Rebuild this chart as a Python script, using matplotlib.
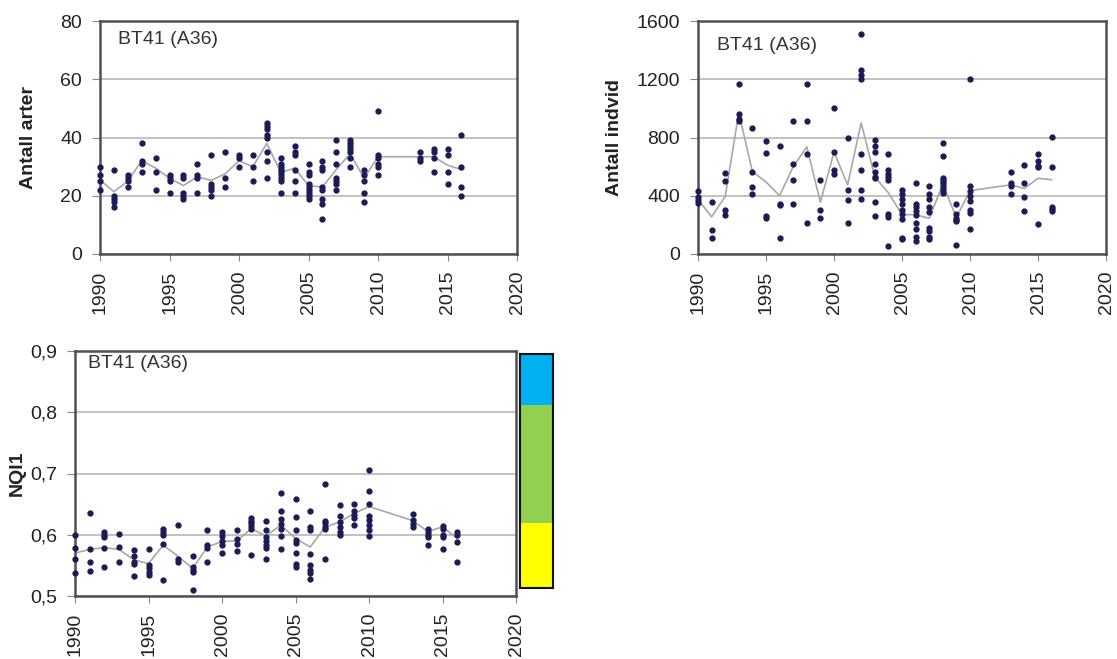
import matplotlib
matplotlib.use('Agg')
import matplotlib.pyplot as plt
from matplotlib.ticker import FuncFormatter

plt.rcParams['font.family'] = ['Liberation Sans', 'DejaVu Sans']

# ---------------- data ----------------
years = [1990, 1991, 1992, 1993, 1994, 1995, 1996, 1997, 1998, 1999, 2000,
         2001, 2002, 2003, 2004, 2005, 2006, 2007, 2008, 2009, 2010,
         2013, 2014, 2015, 2016]

station_label = "BT41 (A36)"

# Antall arter (number of species) – individual samples per year
arter_points = [
    [30, 27, 25, 22],
    [29, 20, 19, 18, 16],
    [27, 26, 25, 23],
    [38, 32, 31, 28],
    [33, 28, 22],
    [27, 26, 25, 21],
    [27, 26, 21, 20, 19],
    [31, 27, 26, 21],
    [34, 24, 23, 22, 20],
    [35, 26, 23],
    [34, 33, 30],
    [34, 30, 25],
    [45, 44, 43, 41, 40, 35, 32, 26],
    [33, 31, 30, 29, 28, 27, 26, 25, 21],
    [37, 35, 34, 29, 25, 21],
    [31, 28, 27, 24, 23, 22, 21, 20, 19],
    [32, 30, 29, 23, 22, 19, 17, 12],
    [39, 35, 31, 26, 25, 24, 22],
    [39, 38, 37, 36, 35, 33, 30],
    [29, 27, 25, 21, 18],
    [49, 34, 33, 31, 30, 27],
    [35, 33, 32],
    [36, 35, 33, 28],
    [36, 34, 28, 24],
    [41, 30, 23, 20],
]
arter_mean = [25.4, 21.4, 25.0, 32.0, 29.5, 26.0, 23.5, 26.5, 25.3, 27.5, 32.0,
              30.0, 38.0, 28.0, 29.5, 23.5, 23.0, 29.0, 34.5, 26.0, 33.4,
              33.4, 33.4, 30.5, 29.0]

# Antall individ (number of individuals)
indvid_points = [
    [430, 390, 370, 350],
    [355, 165, 110],
    [555, 500, 300, 270],
    [1165, 960, 930, 910],
    [865, 560, 460, 410],
    [775, 695, 260, 250],
    [740, 345, 335, 110],
    [915, 620, 510, 345],
    [1165, 915, 690, 215],
    [505, 305, 245],
    [1000, 700, 580, 550],
    [795, 440, 370, 210],
    [1510, 1265, 1230, 1200, 690, 580, 440, 380],
    [780, 740, 700, 620, 560, 530, 520, 355, 260],
    [690, 575, 550, 530, 505, 275, 255, 55],
    [440, 410, 375, 340, 305, 275, 240, 110, 100],
    [485, 340, 320, 295, 270, 215, 170, 120, 90],
    [465, 415, 375, 325, 285, 180, 160, 120, 100],
    [760, 675, 525, 510, 495, 480, 460, 440, 420],
    [340, 275, 250, 235, 230, 65],
    [1200, 465, 430, 400, 365, 305, 280, 170],
    [560, 485, 465, 410],
    [610, 485, 390, 295],
    [685, 640, 605, 600, 205],
    [805, 600, 320, 310, 295],
]
indvid_mean = [375, 255, 395, 970, 565, 495, 400, 600, 735, 355, 700,
               475, 900, 530, 420, 270, 270, 245, 480, 250, 435,
               475, 450, 520, 510]

# NQI1 index
nqi_points = [
    [0.599, 0.578, 0.560, 0.538],
    [0.636, 0.576, 0.556, 0.541],
    [0.604, 0.600, 0.596, 0.578, 0.548],
    [0.601, 0.580, 0.555],
    [0.575, 0.565, 0.556, 0.553, 0.533],
    [0.576, 0.550, 0.546, 0.540, 0.535],
    [0.610, 0.605, 0.600, 0.585, 0.526],
    [0.616, 0.560, 0.555],
    [0.565, 0.548, 0.543, 0.540, 0.510],
    [0.608, 0.583, 0.578, 0.556],
    [0.605, 0.598, 0.590, 0.583, 0.571],
    [0.607, 0.593, 0.585, 0.574],
    [0.627, 0.623, 0.619, 0.615, 0.610, 0.567],
    [0.622, 0.608, 0.597, 0.590, 0.583, 0.578, 0.560],
    [0.668, 0.638, 0.625, 0.617, 0.610, 0.598, 0.576],
    [0.659, 0.629, 0.607, 0.592, 0.587, 0.570, 0.552, 0.547],
    [0.638, 0.612, 0.608, 0.568, 0.550, 0.543, 0.537, 0.527],
    [0.683, 0.623, 0.619, 0.613, 0.609, 0.561],
    [0.648, 0.630, 0.621, 0.612, 0.605, 0.600],
    [0.651, 0.638, 0.633, 0.628, 0.616],
    [0.705, 0.672, 0.650, 0.630, 0.624, 0.616, 0.607, 0.598],
    [0.634, 0.624, 0.618, 0.612],
    [0.609, 0.605, 0.600, 0.596, 0.583],
    [0.615, 0.610, 0.600, 0.596, 0.576],
    [0.605, 0.600, 0.588, 0.556],
]
nqi_mean = [0.570, 0.576, 0.579, 0.576, 0.559, 0.553, 0.583, 0.565, 0.545, 0.580, 0.589,
            0.590, 0.610, 0.598, 0.616, 0.594, 0.580, 0.612, 0.621, 0.635, 0.646,
            0.623, 0.605, 0.613, 0.594]

# NQI1 class bar (boundaries and colours)
class_bounds = [0.513, 0.619, 0.812, 0.895]
class_colors = ['#FFFF00', '#92D050', '#00B0F0']

x_ticks = [1990, 1995, 2000, 2005, 2010, 2015, 2020]

# ---------------- drawing ----------------
FS = 14
dot_color = '#1b1b55'
line_color = '#a8a8a8'
W, H = 1117, 659

fig = plt.figure(figsize=(W / 100, H / 100), dpi=100)


def px_axes(x0, y0, x1, y1):
    return fig.add_axes([x0 / W, 1 - y1 / H, (x1 - x0) / W, (y1 - y0) / H])


def draw_panel(ax, points, means, ylim, yticks, ylabel, fmt, label_x, title_pos):
    for yr, vals in zip(years, points):
        ax.plot([yr] * len(vals), vals, 'o', ms=3.5, color=dot_color,
                mec=dot_color, zorder=3, clip_on=False)
    ax.plot(years, means, '-', color=line_color, lw=1.2, zorder=2)
    ax.set_xlim(1990, 2020)
    ax.set_ylim(*ylim)
    ax.set_xticks(x_ticks)
    ax.set_yticks(yticks)
    ax.yaxis.set_major_formatter(FuncFormatter(fmt))
    ax.tick_params(axis='x', labelrotation=90, labelsize=FS, length=5,
                   color='#888888', pad=7, labelcolor='#222222')
    ax.tick_params(axis='y', labelsize=FS, length=6, color='#888888',
                   pad=7, labelcolor='#222222')
    ax.grid(axis='y', color='#bdbdbd', lw=1.3)
    ax.set_axisbelow(True)
    for s in ax.spines.values():
        s.set_color('#505050')
        s.set_linewidth(1.8)
    ax.set_ylabel(ylabel, fontsize=FS, fontweight='bold', color='#222222')
    ax.yaxis.set_label_coords(label_x, 0.5)
    ax.text(title_pos[0], title_pos[1], station_label, transform=ax.transAxes,
            fontsize=FS, color='#333333', ha='left', va='top')


ax1 = px_axes(100, 21, 517, 254)
draw_panel(ax1, arter_points, arter_mean, (0, 80), [0, 20, 40, 60, 80],
           'Antall arter', lambda v, p: f'{v:.0f}', -0.151, (0.043, 0.955))

ax2 = px_axes(698, 21, 1106, 254)
draw_panel(ax2, indvid_points, indvid_mean, (0, 1600), [0, 400, 800, 1200, 1600],
           'Antall indvid', lambda v, p: f'{v:.0f}', -0.184, (0.047, 0.93))

ax3 = px_axes(75, 351, 516, 596)
draw_panel(ax3, nqi_points, nqi_mean, (0.5, 0.9), [0.5, 0.6, 0.7, 0.8, 0.9],
           'NQI1', lambda v, p: f'{v:.1f}'.replace('.', ','), -0.111, (0.03, 0.985))

# class colour bar
axc = px_axes(520, 354, 553, 588)
for lo, hi, c in zip(class_bounds[:-1], class_bounds[1:], class_colors):
    axc.axhspan(lo, hi, color=c, lw=0)
axc.set_ylim(class_bounds[0], class_bounds[-1])
axc.set_xlim(0, 1)
axc.set_xticks([])
axc.set_yticks([])
for s in axc.spines.values():
    s.set_color('#111111')
    s.set_linewidth(1.5)

fig.savefig('out.png', dpi=100)
